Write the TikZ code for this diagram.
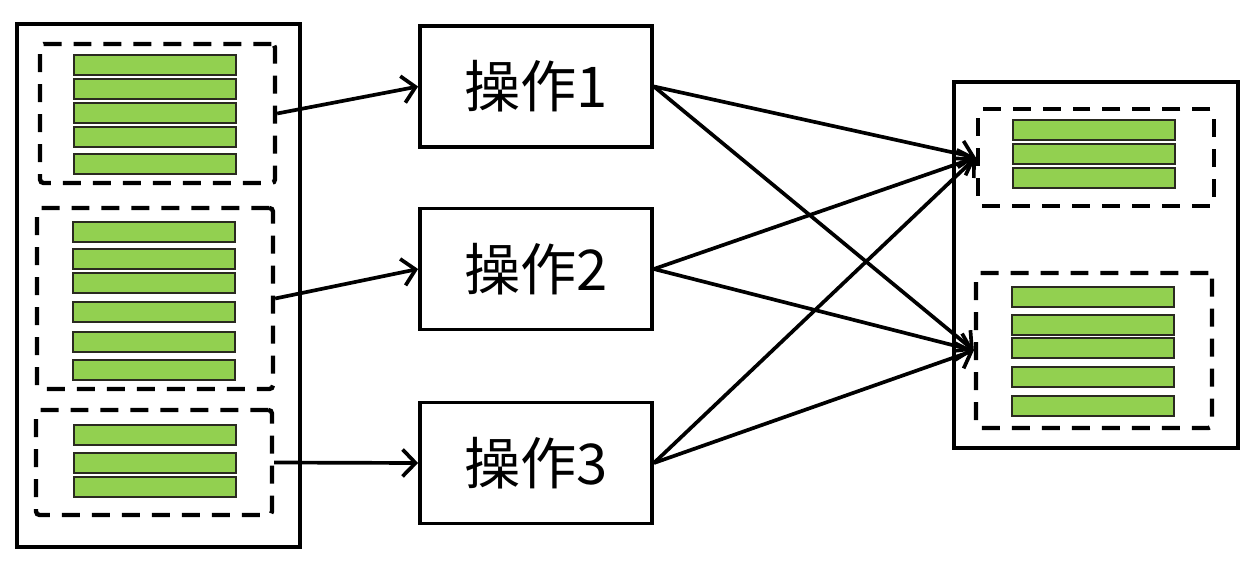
\documentclass[tikz,border=0pt]{standalone}
\usepackage{fontspec}
\usepackage{xcolor}
\usepackage{tikz}
\usetikzlibrary{arrows.meta,positioning}
\newfontfamily\cjk{Noto Sans CJK SC}
\definecolor{bargreen}{HTML}{92D050}
\definecolor{baredge}{HTML}{2A2A20}

\begin{document}
\begin{tikzpicture}[x=0.02cm,y=-0.02cm]
    \tikzstyle{outer}=[draw=black,line width=2.6pt,fill=white]
    \tikzstyle{group}=[draw=black,line width=2.5pt,dash pattern=on 0.36cm off 0.24cm,rounded corners=2pt,inner sep=0pt]
    \tikzstyle{bar}=[draw=baredge,line width=0.7pt,fill=bargreen]
    \tikzstyle{op}=[draw=black,line width=2.2pt,minimum width=4.64cm,minimum height=2.42cm,inner sep=0pt,font=\cjk\fontsize{32pt}{38pt}\selectfont]
    \tikzstyle{link}=[line width=2.1pt,-{Straight Barb[length=2.6mm,width=5.4mm]}]
    \useasboundingbox (0,0) rectangle (1251,568);
    % source side
    \draw[outer] (17,24) rectangle (300,547);
    \node[group,minimum width=4.7cm,minimum height=2.78cm] (src1) at (157.5,113.5) {};
    \node[group,minimum width=4.72cm,minimum height=3.62cm] (src2) at (155,298.5) {};
    \node[group,minimum width=4.72cm,minimum height=2.1cm] (src3) at (154,462.5) {};
    \foreach \y in {55,79,103,127,154}
        \draw[bar] (74,\y) rectangle (236,\y+20);
    \foreach \y in {222,249,273,302,332,360}
        \draw[bar] (73,\y) rectangle (235,\y+20);
    \foreach \y in {425,453,477}
        \draw[bar] (74,\y) rectangle (236,\y+20);
    % operations
    \node[op] (op1) at (536,86.5) {操作1};
    \node[op] (op2) at (536,269) {操作2};
    \node[op] (op3) at (536,463) {操作3};
    % target side
    \draw[outer] (954,82) rectangle (1238,448);
    \node[group,minimum width=4.72cm,minimum height=1.94cm] (dst1) at (1096,157.5) {};
    \node[group,minimum width=4.72cm,minimum height=3.1cm] (dst2) at (1094,350.5) {};
    \foreach \y in {120,144,168}
        \draw[bar] (1013,\y) rectangle (1175,\y+20);
    \foreach \y in {287,315,338,367,396}
        \draw[bar] (1012,\y) rectangle (1174,\y+20);
    % connectors
    \draw[link] (src1.east) -- (op1.west);
    \draw[link] (src2.east) -- (op2.west);
    \draw[link] (src3.east) -- (op3.west);
    \foreach \o in {op1,op2,op3} {
        \draw[link] (\o.east) -- (dst1.west);
        \draw[link] (\o.east) -- (dst2.west);
    }
\end{tikzpicture}
\end{document}
